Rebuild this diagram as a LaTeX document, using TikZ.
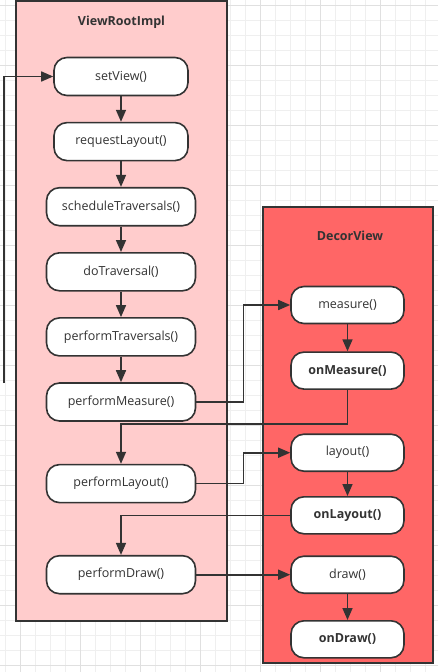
\documentclass[tikz,border=0pt]{standalone}
\usepackage{fontspec}
\setmainfont{Open Sans}
\usetikzlibrary{arrows.meta,positioning}
\definecolor{lineclr}{HTML}{333333}
\definecolor{rootfill}{HTML}{FFCCCC}
\definecolor{decorfill}{HTML}{FF6666}
\definecolor{gridminor}{HTML}{EFEFEF}
\definecolor{gridmajor}{HTML}{E0E0E0}

\begin{document}
\begin{tikzpicture}[
  x=1pt, y=-1pt,
  node distance=25.5pt,
  lane/.style={draw=lineclr, line width=2pt, inner sep=0pt},
  lanetitle/.style={font=\fontsize{12.5}{14}\selectfont\bfseries, text=lineclr},
  call/.style={draw=lineclr, line width=1.6pt, rounded corners=13pt, fill=white, minimum width=149pt, minimum height=38pt, inner sep=0pt, font=\fontsize{12.5}{14}\selectfont, text=lineclr},
  hook/.style={call, minimum width=113pt, minimum height=37pt},
  boldhook/.style={hook, font=\fontsize{12.5}{14}\selectfont\bfseries},
  arrow/.style={-{Triangle[length=12pt,width=10pt]}, line width=1.6pt, draw=lineclr}
]
\useasboundingbox (0,0) rectangle (438,672);
% background grid
\foreach \gx in {5,20,...,437} \draw[gridminor, line width=1pt] (\gx,0) -- (\gx,672);
\foreach \gy in {5,20,...,671} \draw[gridminor, line width=1pt] (0,\gy) -- (438,\gy);
\foreach \gx in {20,80,...,437} \draw[gridmajor, line width=1pt] (\gx,0) -- (\gx,672);
\foreach \gy in {5,65,...,671} \draw[gridmajor, line width=1pt] (0,\gy) -- (438,\gy);

% lanes
\node[lane, fill=rootfill, minimum width=211pt, minimum height=620pt] (vri) at (121.5,311) {};
\node[lane, fill=decorfill, minimum width=170pt, minimum height=456pt] (dv) at (348,435) {};
\node[lanetitle] (vrit) at (121.5,22.5) {ViewRootImpl};
\node[lanetitle] (dvt) at (350,236) {DecorView};

% ViewRootImpl calls
\node[call, minimum width=134pt] (sv) at (121,76.5) {setView()};
\node[call, minimum width=134pt, below=of sv] (rl) {requestLayout()};
\node[call, below=of rl] (st) {scheduleTraversals()};
\node[call, below=of st] (dt) {doTraversal()};
\node[call, below=of dt] (pt) {performTraversals()};
\node[call, below=of pt] (pm) {performMeasure()};
\node[call, below=42pt of pm] (pl) {performLayout()};
\node[call, below=51.5pt of pl] (pd) {performDraw()};

% DecorView calls
\node[hook] (me) at (347.5,305) {measure()};
\node[boldhook, below=27pt of me] (om) {onMeasure()};
\node[hook, below=43.5pt of om] (la) {layout()};
\node[boldhook, below=24pt of la] (ol) {onLayout()};
\node[hook] (dr) at (me |- pd) {draw()};
\node[boldhook, below=26pt of dr] (od) {onDraw()};

\coordinate (entry) at (4,383);
\draw[arrow] (entry) |- (sv.west);
\draw[arrow] (sv) -- (rl);
\draw[arrow] (rl) -- (st);
\draw[arrow] (st) -- (dt);
\draw[arrow] (dt) -- (pt);
\draw[arrow] (pt) -- (pm);
\draw[arrow] (pm.east) -- ++(47,0) |- (me.west);
\draw[arrow] (me) -- (om);
\draw[arrow] (om.south) -- ++(0,34) -| (pl.north);
\draw[arrow] (pl.east) -- ++(47,0) |- (la.west);
\draw[arrow] (la) -- (ol);
\draw[arrow] (ol.west) -| (pd.north);
\draw[arrow] (pd.east) -- (dr.west);
\draw[arrow] (dr) -- (od);
\end{tikzpicture}
\end{document}
